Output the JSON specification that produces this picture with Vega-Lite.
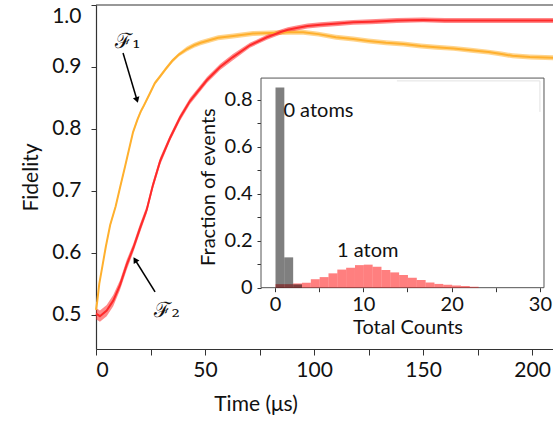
{
  "$schema": "https://vega.github.io/schema/vega-lite/v6.json",
  "width": 457,
  "height": 344,
  "autosize": {"type": "none"},
  "padding": {"left": 96, "top": 5, "right": 0, "bottom": 78},
  "config": {
    "view": {"stroke": null},
    "font": "Lato",
    "axis": {"domainColor": "#333", "tickColor": "#333", "labelColor": "#111", "titleColor": "#111", "labelFont": "Lato", "titleFont": "Lato", "grid": false, "titleFontWeight": "normal"}
  },
  "datasets": {
    "fid": [
      {"s": "F1", "t": 0, "f": 0.508, "e": 0.004},
      {"s": "F1", "t": 0.5, "f": 0.52, "e": 0.003},
      {"s": "F1", "t": 1.5, "f": 0.55, "e": 0.003},
      {"s": "F1", "t": 3, "f": 0.58, "e": 0.003},
      {"s": "F1", "t": 4.5, "f": 0.61, "e": 0.003},
      {"s": "F1", "t": 6.5, "f": 0.645, "e": 0.003},
      {"s": "F1", "t": 9, "f": 0.675, "e": 0.003},
      {"s": "F1", "t": 11, "f": 0.705, "e": 0.003},
      {"s": "F1", "t": 13.3, "f": 0.739, "e": 0.003},
      {"s": "F1", "t": 15, "f": 0.765, "e": 0.003},
      {"s": "F1", "t": 17, "f": 0.795, "e": 0.003},
      {"s": "F1", "t": 19, "f": 0.815, "e": 0.003},
      {"s": "F1", "t": 20.5, "f": 0.828, "e": 0.003},
      {"s": "F1", "t": 22, "f": 0.838, "e": 0.003},
      {"s": "F1", "t": 24.8, "f": 0.858, "e": 0.003},
      {"s": "F1", "t": 27, "f": 0.874, "e": 0.003},
      {"s": "F1", "t": 29.4, "f": 0.885, "e": 0.003},
      {"s": "F1", "t": 32, "f": 0.897, "e": 0.003},
      {"s": "F1", "t": 35, "f": 0.91, "e": 0.003},
      {"s": "F1", "t": 38, "f": 0.92, "e": 0.003},
      {"s": "F1", "t": 41.7, "f": 0.929, "e": 0.004},
      {"s": "F1", "t": 45, "f": 0.935, "e": 0.004},
      {"s": "F1", "t": 48, "f": 0.939, "e": 0.004},
      {"s": "F1", "t": 52, "f": 0.943, "e": 0.004},
      {"s": "F1", "t": 56, "f": 0.947, "e": 0.004},
      {"s": "F1", "t": 63, "f": 0.95, "e": 0.004},
      {"s": "F1", "t": 72, "f": 0.954, "e": 0.004},
      {"s": "F1", "t": 80, "f": 0.955, "e": 0.004},
      {"s": "F1", "t": 89, "f": 0.956, "e": 0.004},
      {"s": "F1", "t": 95, "f": 0.956, "e": 0.004},
      {"s": "F1", "t": 102, "f": 0.953, "e": 0.004},
      {"s": "F1", "t": 110, "f": 0.948, "e": 0.004},
      {"s": "F1", "t": 118, "f": 0.945, "e": 0.004},
      {"s": "F1", "t": 125, "f": 0.942, "e": 0.004},
      {"s": "F1", "t": 133, "f": 0.939, "e": 0.004},
      {"s": "F1", "t": 141, "f": 0.937, "e": 0.004},
      {"s": "F1", "t": 149, "f": 0.934, "e": 0.004},
      {"s": "F1", "t": 156, "f": 0.932, "e": 0.004},
      {"s": "F1", "t": 164, "f": 0.93, "e": 0.004},
      {"s": "F1", "t": 172, "f": 0.927, "e": 0.004},
      {"s": "F1", "t": 180, "f": 0.924, "e": 0.004},
      {"s": "F1", "t": 186, "f": 0.921, "e": 0.004},
      {"s": "F1", "t": 191, "f": 0.918, "e": 0.004},
      {"s": "F1", "t": 199, "f": 0.916, "e": 0.004},
      {"s": "F1", "t": 209.6, "f": 0.915, "e": 0.004},
      {"s": "F2", "t": 0, "f": 0.502, "e": 0.009},
      {"s": "F2", "t": 1.8, "f": 0.498, "e": 0.009},
      {"s": "F2", "t": 4.9, "f": 0.507, "e": 0.009},
      {"s": "F2", "t": 7.9, "f": 0.523, "e": 0.009},
      {"s": "F2", "t": 11, "f": 0.548, "e": 0.008},
      {"s": "F2", "t": 14.1, "f": 0.581, "e": 0.008},
      {"s": "F2", "t": 17.1, "f": 0.608, "e": 0.007},
      {"s": "F2", "t": 20.2, "f": 0.64, "e": 0.007},
      {"s": "F2", "t": 23.3, "f": 0.67, "e": 0.006},
      {"s": "F2", "t": 26, "f": 0.708, "e": 0.006},
      {"s": "F2", "t": 29.4, "f": 0.748, "e": 0.006},
      {"s": "F2", "t": 33.9, "f": 0.785, "e": 0.005},
      {"s": "F2", "t": 38.5, "f": 0.818, "e": 0.005},
      {"s": "F2", "t": 43.1, "f": 0.845, "e": 0.005},
      {"s": "F2", "t": 50.9, "f": 0.879, "e": 0.005},
      {"s": "F2", "t": 56.9, "f": 0.9, "e": 0.005},
      {"s": "F2", "t": 62.8, "f": 0.916, "e": 0.005},
      {"s": "F2", "t": 70.6, "f": 0.935, "e": 0.004},
      {"s": "F2", "t": 78.4, "f": 0.948, "e": 0.004},
      {"s": "F2", "t": 84.4, "f": 0.956, "e": 0.004},
      {"s": "F2", "t": 88, "f": 0.96, "e": 0.004},
      {"s": "F2", "t": 92, "f": 0.963, "e": 0.004},
      {"s": "F2", "t": 97, "f": 0.966, "e": 0.004},
      {"s": "F2", "t": 103, "f": 0.968, "e": 0.004},
      {"s": "F2", "t": 111, "f": 0.97, "e": 0.004},
      {"s": "F2", "t": 118, "f": 0.972, "e": 0.004},
      {"s": "F2", "t": 126, "f": 0.973, "e": 0.004},
      {"s": "F2", "t": 138, "f": 0.975, "e": 0.004},
      {"s": "F2", "t": 150, "f": 0.976, "e": 0.004},
      {"s": "F2", "t": 160, "f": 0.975, "e": 0.004},
      {"s": "F2", "t": 175, "f": 0.975, "e": 0.004},
      {"s": "F2", "t": 190, "f": 0.975, "e": 0.004},
      {"s": "F2", "t": 209.6, "f": 0.975, "e": 0.004}
    ],
    "arrows": [
      {"lab": "F1", "t": 12.4, "f": 0.9226, "t2": 18.8, "f2": 0.8468},
      {"lab": "F2", "t": 27.1, "f": 0.537, "t2": 17.9, "f2": 0.589}
    ],
    "flabels": [
      {"txt": "ℱ₁", "t": 14.7, "f": 0.94},
      {"txt": "ℱ₂", "t": 32.6, "f": 0.506}
    ],
    "xtitle": [{"txt": "Time (μs)", "t": 73.4, "f": 0.355}],
    "hist": [
      {"grp": "1 atom", "lo": 0, "hi": 1, "frac": 0.015},
      {"grp": "1 atom", "lo": 1, "hi": 2, "frac": 0.015},
      {"grp": "1 atom", "lo": 2, "hi": 3, "frac": 0.018},
      {"grp": "1 atom", "lo": 3, "hi": 4, "frac": 0.021},
      {"grp": "1 atom", "lo": 4, "hi": 5, "frac": 0.036},
      {"grp": "1 atom", "lo": 5, "hi": 6, "frac": 0.045},
      {"grp": "1 atom", "lo": 6, "hi": 7, "frac": 0.061},
      {"grp": "1 atom", "lo": 7, "hi": 8, "frac": 0.077},
      {"grp": "1 atom", "lo": 8, "hi": 9, "frac": 0.085},
      {"grp": "1 atom", "lo": 9, "hi": 10, "frac": 0.096},
      {"grp": "1 atom", "lo": 10, "hi": 11, "frac": 0.098},
      {"grp": "1 atom", "lo": 11, "hi": 12, "frac": 0.089},
      {"grp": "1 atom", "lo": 12, "hi": 13, "frac": 0.075},
      {"grp": "1 atom", "lo": 13, "hi": 14, "frac": 0.065},
      {"grp": "1 atom", "lo": 14, "hi": 15, "frac": 0.054},
      {"grp": "1 atom", "lo": 15, "hi": 16, "frac": 0.042},
      {"grp": "1 atom", "lo": 16, "hi": 17, "frac": 0.033},
      {"grp": "1 atom", "lo": 17, "hi": 18, "frac": 0.022},
      {"grp": "1 atom", "lo": 18, "hi": 19, "frac": 0.016},
      {"grp": "1 atom", "lo": 19, "hi": 20, "frac": 0.012},
      {"grp": "1 atom", "lo": 20, "hi": 21, "frac": 0.009},
      {"grp": "1 atom", "lo": 21, "hi": 22, "frac": 0.007},
      {"grp": "1 atom", "lo": 22, "hi": 23, "frac": 0.004},
      {"grp": "0 atoms", "lo": 0, "hi": 1, "frac": 0.852},
      {"grp": "0 atoms", "lo": 1, "hi": 2, "frac": 0.129},
      {"grp": "0 atoms", "lo": 2, "hi": 3, "frac": 0.014}
    ],
    "insetText": [
      {"txt": "0 atoms", "x": 0.95, "y": 0.753},
      {"txt": "1 atom", "x": 10.5, "y": 0.157},
      {"txt": "Total Counts", "x": 15.06, "y": -0.171}
    ],
    "insetYTitle": [{"txt": "Fraction of events", "x": -7.47, "y": 0.428}]
  },
  "layer": [
    {
      "layer": [
        {
          "data": {"name": "fid"},
          "mark": {"type": "errorband", "opacity": 0.55},
          "encoding": {
            "x": {"field": "t", "type": "quantitative", "scale": {"domain": [0, 209.6], "nice": false, "zero": false},
              "axis": {"values": [0, 25, 50, 75, 100, 125, 150, 175, 200], "labelExpr": "datum.value % 50 === 0 ? datum.label : ''", "title": null, "tickSize": 6, "labelFontSize": 21, "labelPadding": 4, "domainWidth": 1.2}},
            "y": {"field": "f", "type": "quantitative", "scale": {"domain": [0.445, 1.0], "nice": false, "zero": false},
              "axis": {"values": [0.5, 0.6, 0.7, 0.8, 0.9, 1.0], "format": ".1f", "title": "Fidelity", "titleFontSize": 21, "labelFontSize": 21, "tickSize": 5, "labelPadding": 10, "titlePadding": 10, "labelFlush": true, "domainWidth": 1.2}},
            "yError": {"field": "e"},
            "color": {"field": "s", "type": "nominal", "scale": {"domain": ["F1", "F2"], "range": ["#FFB02E", "#FF2A2A"]}, "legend": null}
          }
        },
        {
          "data": {"name": "fid"},
          "mark": {"type": "line", "strokeWidth": 2},
          "encoding": {
            "x": {"field": "t", "type": "quantitative", "scale": {"domain": [0, 209.6], "nice": false, "zero": false}},
            "y": {"field": "f", "type": "quantitative", "scale": {"domain": [0.445, 1.0], "nice": false, "zero": false}},
            "color": {"field": "s", "type": "nominal", "legend": null}
          }
        },
        {
          "data": {"values": [{"edge": "top"}]},
          "mark": {"type": "rule", "color": "#333", "strokeWidth": 1.2},
          "encoding": {"y": {"datum": 1.0, "type": "quantitative", "scale": {"domain": [0.445, 1.0], "nice": false, "zero": false}}}
        },
        {
          "data": {"name": "arrows"},
          "mark": {"type": "rule", "color": "#000", "strokeWidth": 1.5},
          "encoding": {
            "x": {"field": "t", "type": "quantitative"},
            "y": {"field": "f", "type": "quantitative"},
            "x2": {"field": "t2"},
            "y2": {"field": "f2"}
          }
        },
        {
          "data": {"name": "arrows"},
          "transform": [{"filter": "datum.lab === 'F1'"}],
          "mark": {"type": "point", "shape": "triangle-up", "filled": true, "color": "#000", "opacity": 1, "size": 45, "angle": 163},
          "encoding": {
            "x": {"field": "t2", "type": "quantitative"},
            "y": {"field": "f2", "type": "quantitative"}
          }
        },
        {
          "data": {"name": "arrows"},
          "transform": [{"filter": "datum.lab === 'F2'"}],
          "mark": {"type": "point", "shape": "triangle-up", "filled": true, "color": "#000", "opacity": 1, "size": 45, "angle": 328},
          "encoding": {
            "x": {"field": "t2", "type": "quantitative"},
            "y": {"field": "f2", "type": "quantitative"}
          }
        },
        {
          "data": {"name": "flabels"},
          "mark": {"type": "text", "font": "DejaVu Serif", "fontSize": 21, "color": "#111", "align": "center", "baseline": "middle"},
          "encoding": {
            "x": {"field": "t", "type": "quantitative"},
            "y": {"field": "f", "type": "quantitative"},
            "text": {"field": "txt"}
          }
        },
        {
          "data": {"name": "xtitle"},
          "mark": {"type": "text", "font": "Lato", "fontSize": 21, "color": "#111", "align": "center", "baseline": "middle"},
          "encoding": {
            "x": {"field": "t", "type": "quantitative"},
            "y": {"field": "f", "type": "quantitative"},
            "text": {"field": "txt"}
          }
        }
      ]
    },
    {
      "layer": [
        {
          "data": {"values": [{"box": "inset"}]},
          "mark": {"type": "rect", "fill": "#fff", "stroke": "#555", "strokeWidth": 1},
          "encoding": {
            "x": {"datum": -1.585, "type": "quantitative", "scale": {"domain": [-20.27, 31.48], "nice": false, "zero": false},
              "axis": {"orient": "bottom", "offset": -61.3, "values": [0, 5, 10, 15, 20, 25, 30], "labelExpr": "datum.value % 10 === 0 ? datum.label : ''", "domain": false, "tickSize": 4, "labelFontSize": 20, "labelPadding": 3, "title": null}},
            "x2": {"datum": 30.46},
            "y": {"datum": 0, "type": "quantitative", "scale": {"domain": [-0.261, 1.203], "nice": false, "zero": false},
              "axis": {"orient": "left", "offset": -165, "values": [0, 0.1, 0.2, 0.3, 0.4, 0.5, 0.6, 0.7, 0.8], "labelExpr": "round(datum.value * 10) % 2 === 0 ? (datum.value === 0 ? '0' : format(datum.value, '.1f')) : ''", "domain": false, "tickSize": 4, "labelFontSize": 20, "labelPadding": 5, "title": null}},
            "y2": {"datum": 0.892}
          }
        },
        {
          "data": {"values": [{"edge": "legendtop"}]},
          "mark": {"type": "rule", "color": "#e2e2e2", "strokeWidth": 1},
          "encoding": {
            "x": {"datum": 13.8, "type": "quantitative"},
            "x2": {"datum": 30.0},
            "y": {"datum": 0.88, "type": "quantitative"}
          }
        },
        {
          "data": {"values": [{"edge": "legendright"}]},
          "mark": {"type": "rule", "color": "#e2e2e2", "strokeWidth": 1},
          "encoding": {
            "x": {"datum": 30.0, "type": "quantitative"},
            "y": {"datum": 0.88, "type": "quantitative"},
            "y2": {"datum": 0.748}
          }
        },
        {
          "data": {"name": "hist"},
          "mark": {"type": "rect", "fillOpacity": 0.5},
          "encoding": {
            "x": {"field": "lo", "type": "quantitative", "bin": "binned"},
            "x2": {"field": "hi"},
            "y": {"field": "frac", "type": "quantitative"},
            "y2": {"datum": 0},
            "color": {"field": "grp", "type": "nominal", "scale": {"domain": ["1 atom", "0 atoms"], "range": ["#FF0000", "#000000"]}, "legend": null}
          }
        },
        {
          "data": {"name": "insetText"},
          "transform": [{"filter": "datum.txt === '0 atoms'"}],
          "mark": {"type": "text", "font": "Lato", "fontSize": 20, "color": "#111", "align": "left", "baseline": "middle"},
          "encoding": {
            "x": {"field": "x", "type": "quantitative"},
            "y": {"field": "y", "type": "quantitative"},
            "text": {"field": "txt"}
          }
        },
        {
          "data": {"name": "insetText"},
          "transform": [{"filter": "datum.txt !== '0 atoms'"}],
          "mark": {"type": "text", "font": "Lato", "fontSize": 20, "color": "#111", "align": "center", "baseline": "middle"},
          "encoding": {
            "x": {"field": "x", "type": "quantitative"},
            "y": {"field": "y", "type": "quantitative"},
            "text": {"field": "txt"}
          }
        },
        {
          "data": {"name": "insetYTitle"},
          "mark": {"type": "text", "font": "Lato", "fontSize": 20, "color": "#111", "align": "center", "baseline": "middle", "angle": 270},
          "encoding": {
            "x": {"field": "x", "type": "quantitative"},
            "y": {"field": "y", "type": "quantitative"},
            "text": {"field": "txt"}
          }
        }
      ]
    }
  ],
  "resolve": {"scale": {"x": "independent", "y": "independent", "color": "independent"}, "axis": {"x": "independent", "y": "independent"}}
}
